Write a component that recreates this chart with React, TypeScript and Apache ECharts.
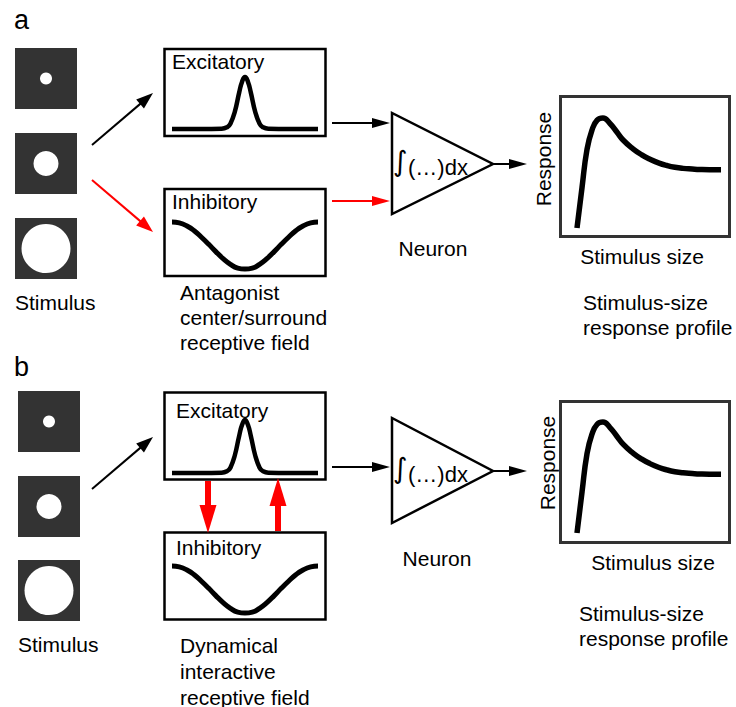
import React, { useEffect, useRef } from "react";
import * as echarts from "echarts";

// Receptive-field profiles across the field (position 0–100, relative amplitude)
const excitatoryPos = [0, 20, 34, 38, 40, 43, 46, 48, 50, 52, 54, 57, 60, 62, 66, 80, 100];
const excitatoryAmp = [0, 0, 0.005, 0.04, 0.1, 0.33, 0.7, 0.91, 1, 0.91, 0.7, 0.33, 0.1, 0.04, 0.005, 0, 0];

const inhibitoryPos = [0, 5, 10, 15, 20, 25, 30, 35, 40, 45, 50, 55, 60, 65, 70, 75, 80, 85, 90, 95, 100];
const inhibitoryAmp = [0, -0.02, -0.08, -0.18, -0.32, -0.47, -0.63, -0.78, -0.9, -0.98, -1, -0.98, -0.9, -0.78, -0.63, -0.47, -0.32, -0.18, -0.08, -0.02, 0];

// Stimulus-size response profile (size 0–100, normalised response)
const stimulusSize = [0, 3.5, 6.9, 10.4, 14, 18, 22.9, 27.8, 32, 38.9, 45, 50.7, 57, 62.5, 68, 73.6, 80, 85.4, 92, 100];
const responseValue = [0, 0.37, 0.71, 0.89, 0.98, 1.0, 0.95, 0.87, 0.8, 0.72, 0.665, 0.625, 0.59, 0.568, 0.552, 0.542, 0.536, 0.532, 0.53, 0.53];

// Stimulus disc radii (px) shown in the three stimulus squares
const stimulusRadii = [6, 12.5, 24.5];

// Text labels
const panelLabels = ["a", "b"];
const excLabel = "Excitatory";
const inhLabel = "Inhibitory";
const stimLabel = "Stimulus";
const neuronLabel = "Neuron";
const integralSign = "\u222B";
const integrandLabel = "(\u2026)dx";
const responseLabel = "Response";
const sizeLabel = "Stimulus size";
const profileLines = ["Stimulus-size", "response profile"];
const fieldLinesA = ["Antagonist", "center/surround", "receptive field"];
const fieldLinesB = ["Dynamical", "interactive", "receptive field"];

const FONT = '"Liberation Sans", Arial, Helvetica, sans-serif';
const RED = "#ff0000";

function pairs(xs: number[], ys: number[]) {
  return xs.map((x, i) => [x, ys[i]]);
}

function txt(x: number, y: number, s: string, o: any = {}) {
  return {
    type: "text",
    x,
    y,
    rotation: o.rotation || 0,
    z: 10,
    style: {
      text: s,
      fontSize: o.size || 21,
      fontFamily: o.family || FONT,
      fill: "#000",
      textAlign: o.align || "left",
      textVerticalAlign: "middle",
    },
  };
}

function arrow(x1: number, y1: number, x2: number, y2: number, color: string, w: number, hl: number, hw: number) {
  const dx = x2 - x1;
  const dy = y2 - y1;
  const L = Math.hypot(dx, dy);
  const ux = dx / L;
  const uy = dy / L;
  const bx = x2 - ux * hl;
  const by = y2 - uy * hl;
  const nx = -uy;
  const ny = ux;
  return [
    { type: "line", z: 5, shape: { x1, y1, x2: bx + ux, y2: by + uy }, style: { stroke: color, lineWidth: w } },
    {
      type: "polygon",
      z: 5,
      shape: { points: [[x2, y2], [bx + nx * hw, by + ny * hw], [bx - nx * hw, by - ny * hw]] },
      style: { fill: color },
    },
  ];
}

function rectBox(x: number, y: number, w: number, h: number, color = "#000", lw = 2.5) {
  return { type: "rect", z: 4, shape: { x, y, width: w, height: h }, style: { fill: "none", stroke: color, lineWidth: lw } };
}

function stimulusColumn(x: number, ys: number[]) {
  const out: any[] = [];
  ys.forEach((y, i) => {
    out.push({ type: "rect", z: 2, shape: { x, y, width: 62, height: 61 }, style: { fill: "#333333" } });
    out.push({ type: "circle", z: 3, shape: { cx: x + 31, cy: y + 30.5, r: stimulusRadii[i] }, style: { fill: "#ffffff" } });
  });
  return out;
}

function neuron(tipY: number, topY: number, botY: number) {
  return [
    {
      type: "polygon",
      z: 4,
      shape: { points: [[392, topY], [392, botY], [493, tipY]] },
      style: { fill: "none", stroke: "#000", lineWidth: 2.5, lineJoin: "miter" },
    },
    txt(393, tipY - 3, integralSign, { size: 28, family: '"DejaVu Sans", ' + FONT }),
    txt(408, tipY + 3, integrandLabel, { size: 22 }),
  ];
}

function buildGraphics() {
  const g: any[] = [];
  // panel letters
  g.push(txt(14, 20, panelLabels[0], { size: 27 }));
  g.push(txt(14, 367, panelLabels[1], { size: 27 }));

  // ---- panel a ----
  g.push(...stimulusColumn(15, [48, 133, 218]));
  g.push(txt(15, 302, stimLabel));
  g.push(...arrow(92, 145, 153, 93, "#000", 2, 17, 6));
  g.push(...arrow(92, 180, 153, 232, RED, 2, 17, 6));
  g.push(rectBox(164.5, 49, 161, 87));
  g.push(rectBox(164.5, 189, 161, 87));
  g.push(txt(172, 61, excLabel));
  g.push(txt(172, 201, inhLabel));
  fieldLinesA.forEach((s, i) => g.push(txt(180, 292 + i * 25, s)));
  g.push(...arrow(332, 123, 390, 123, "#000", 2, 18, 5));
  g.push(...arrow(332, 201, 390, 201, RED, 2, 18, 5));
  g.push(...neuron(164, 113, 214));
  g.push(...arrow(493, 164, 527, 164, "#000", 2, 18, 5));
  g.push(txt(433, 248, neuronLabel, { align: "center" }));
  g.push(rectBox(560.5, 96.5, 169, 140, "#333", 3));
  g.push(txt(543, 159, responseLabel, { align: "center", rotation: Math.PI / 2 }));
  g.push(txt(642, 256, sizeLabel, { align: "center" }));
  profileLines.forEach((s, i) => g.push(txt(583, 302 + i * 25, s)));

  // ---- panel b ----
  g.push(...stimulusColumn(18, [391, 476, 560]));
  g.push(txt(18, 644, stimLabel));
  g.push(...arrow(92, 489, 153, 437, "#000", 2, 17, 6));
  g.push(rectBox(164.5, 392.5, 161, 87));
  g.push(rectBox(164.5, 532.5, 161, 87));
  g.push(txt(176, 410, excLabel));
  g.push(txt(176, 547, inhLabel));
  fieldLinesB.forEach((s, i) => g.push(txt(180, 645 + i * 26, s)));
  // reciprocal excitatory/inhibitory coupling
  g.push(...arrow(208, 481, 208, 533, RED, 6, 28, 8.5));
  g.push(...arrow(278, 531, 278, 478, RED, 6, 28, 8.5));
  g.push(...arrow(332, 467, 390, 467, "#000", 2, 18, 5));
  g.push(...neuron(471, 418, 523));
  g.push(...arrow(493, 471, 527, 471, "#000", 2, 18, 5));
  g.push(txt(437, 558, neuronLabel, { align: "center" }));
  g.push(rectBox(560.5, 401.5, 169, 141, "#333", 3));
  g.push(txt(547, 463, responseLabel, { align: "center", rotation: Math.PI / 2 }));
  g.push(txt(653, 562, sizeLabel, { align: "center" }));
  profileLines.forEach((s, i) => g.push(txt(579, 613 + i * 25, s)));
  return g;
}

const grids = [
  { left: 172, top: 77, width: 146, height: 52 },
  { left: 172, top: 222, width: 146, height: 47 },
  { left: 577, top: 118, width: 144, height: 110 },
  { left: 172, top: 420, width: 146, height: 53 },
  { left: 172, top: 566, width: 146, height: 47 },
  { left: 577, top: 422, width: 144, height: 111 },
];
const yRanges = [
  [0, 1],
  [-1, 0],
  [0, 1],
  [0, 1],
  [-1, 0],
  [0, 1],
];

export default function App() {
  const ref = useRef<HTMLDivElement>(null);
  useEffect(() => {
    if (!ref.current) return;
    const chart = echarts.init(ref.current, null, { renderer: "svg" });
    const curves = [
      pairs(excitatoryPos, excitatoryAmp),
      pairs(inhibitoryPos, inhibitoryAmp),
      pairs(stimulusSize, responseValue),
      pairs(excitatoryPos, excitatoryAmp),
      pairs(inhibitoryPos, inhibitoryAmp),
      pairs(stimulusSize, responseValue),
    ];
    const widths = [4.5, 5, 5.5, 4.5, 5, 5.5];
    chart.setOption({
      animation: false,
      backgroundColor: "#ffffff",
      grid: grids.map((g) => ({ ...g, containLabel: false, show: false })),
      xAxis: grids.map((_, i) => ({
        type: "value",
        gridIndex: i,
        min: 0,
        max: 100,
        show: false,
      })),
      yAxis: grids.map((_, i) => ({
        type: "value",
        gridIndex: i,
        min: yRanges[i][0],
        max: yRanges[i][1],
        show: false,
      })),
      series: curves.map((data, i) => ({
        type: "line",
        xAxisIndex: i,
        yAxisIndex: i,
        data,
        showSymbol: false,
        smooth: 0.5,
        silent: true,
        clip: false,
        lineStyle: { color: "#000", width: widths[i], cap: "butt", join: "round" },
        z: 6,
      })),
      graphic: buildGraphics(),
    });
    return () => chart.dispose();
  }, []);
  return (
    <div
      ref={ref}
      style={{ position: "absolute", left: 0, top: 0, width: 736, height: 707, background: "#fff" }}
    />
  );
}
